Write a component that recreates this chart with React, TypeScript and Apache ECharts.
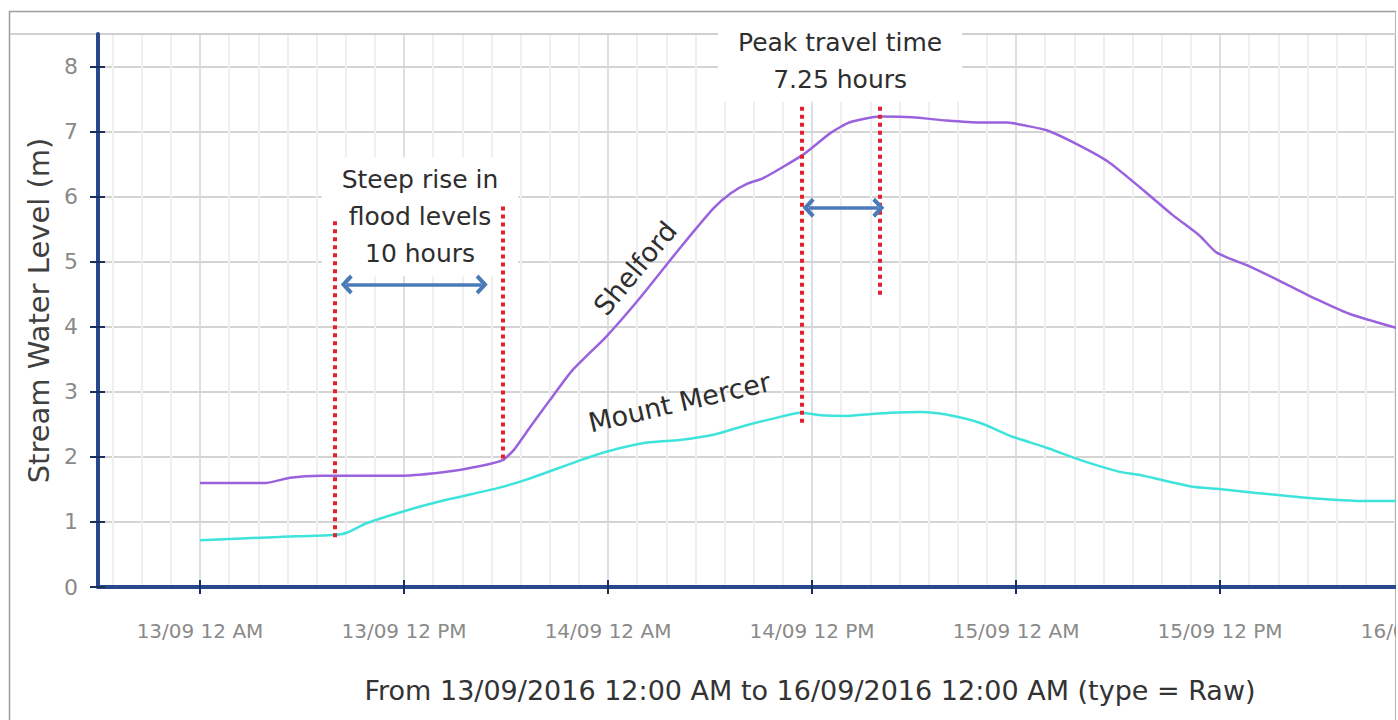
import React, { useEffect, useRef } from "react";
import * as echarts from "echarts";

// ---- data (hours after 13/09/2016 12:00 AM) ----
const tickLabels = [
  "13/09 12 AM",
  "13/09 12 PM",
  "14/09 12 AM",
  "14/09 12 PM",
  "15/09 12 AM",
  "15/09 12 PM",
  "16/09 12 AM",
];

const shelfordHours = [
  0, 3.9, 5.3, 7.1, 11.9, 14.5, 16.5, 17.8, 18.5, 19.4, 20.6, 21.9, 23.9, 25.9, 28.2,
  30.2, 31.2, 32.2, 33.1, 35.5, 37.1, 38.2, 40, 41.9, 43.9, 45.9, 47.5, 48.6, 49.8, 51.4,
  53.4, 55.3, 57.2, 58.8, 59.8, 61.8, 63.7, 65.7, 67.6, 70.4,
];
const shelfordLevel = [
  1.6, 1.6, 1.68, 1.71, 1.71, 1.77, 1.86, 1.95, 2.12, 2.45, 2.88, 3.33, 3.85, 4.45, 5.2,
  5.82, 6.05, 6.2, 6.28, 6.65, 6.98, 7.14, 7.23, 7.22, 7.17, 7.14, 7.14, 7.09, 7.02, 6.83,
  6.54, 6.14, 5.72, 5.4, 5.14, 4.92, 4.68, 4.42, 4.2, 3.98,
];

const mercerHours = [
  0, 4.7, 7.8, 8.6, 9.8, 12.2, 14.5, 17.5, 19.2, 22.4, 23.9, 26.3, 28.2, 30.2, 32.2,
  33.9, 35.3, 36.5, 38.1, 39.5, 40.6, 42.4, 43.9, 45.9, 47.8, 49.8, 51.8, 54.1, 55.3,
  58.4, 59.8, 62, 64.7, 68.6, 70.4,
];
const mercerLevel = [
  0.72, 0.77, 0.8, 0.83, 0.98, 1.18, 1.34, 1.52, 1.65, 1.95, 2.08, 2.22, 2.26, 2.34, 2.49,
  2.6, 2.68, 2.64, 2.63, 2.66, 2.68, 2.69, 2.65, 2.52, 2.31, 2.14, 1.95, 1.77, 1.72,
  1.54, 1.51, 1.45, 1.38, 1.32, 1.32,
];

// red dotted marker lines
const markerHours = [7.9, 17.8, 35.4, 40.0];
const markerTop = [5.62, 5.85, 7.38, 7.38];
const markerBottom = [0.74, 1.95, 2.49, 4.45];

// double-headed arrows
const arrowFrom = [8.63, 35.8];
const arrowTo = [16.57, 39.9];
const arrowLevel = [4.65, 5.83];

// annotation anchors (data coords)
const noteTexts = ["Steep rise in\nflood levels\n10 hours", "Peak travel time\n7.25 hours"];
const noteHours = [12.94, 37.65];
const noteLevel = [5.69, 8.09];

const seriesNames = ["Shelford", "Mount Mercer"];
const seriesNameHours = [25.6, 28.2];
const seriesNameLevel = [4.9, 2.84];
const seriesNameAngle = [50, 13];

const xMinHours = -6;
const xMaxHours = 70.35;
const yMax = 8.5;
const HOURS_PER_TICK = 12;

const FONT = "'DejaVu Sans', 'Noto Sans', sans-serif";
const toX = (h: number) => h / HOURS_PER_TICK;

const CHEVRON = "path://M10,0 L20,10 L17,13 L10,6 L3,13 L0,10 Z";

export default function App() {
  const ref = useRef<HTMLDivElement>(null);

  useEffect(() => {
    if (!ref.current) return;
    const chart = echarts.init(ref.current, undefined, { renderer: "svg" });

    const tickVals = tickLabels.slice(0, 6).map((_, i) => i);
    const yTickVals = [0, 1, 2, 3, 4, 5, 6, 7, 8];
    const xFormatter = (v: number) => {
      const i = Math.round(v);
      return Math.abs(v - i) < 1e-6 && tickLabels[i] ? tickLabels[i] : "";
    };

    const option: any = {
      animation: false,
      grid: {
        left: 98,
        top: 34,
        width: 1298,
        height: 553,
        containLabel: false,
        outerBoundsMode: "none",
      },
      xAxis: [
        {
          type: "value",
          min: toX(xMinHours),
          max: toX(xMaxHours),
          minInterval: 1,
          maxInterval: 1,
          splitNumber: 6,
          axisLine: { show: true, onZero: false, lineStyle: { color: "#27498c", width: 4 } },
          axisTick: {
            show: true,
            customValues: tickVals,
            length: 7,
            lineStyle: { color: "#1b2f5c", width: 2 },
          },
          axisLabel: {
            customValues: tickVals,
            formatter: xFormatter,
            color: "#8a8a8a",
            fontSize: 20,
            fontFamily: FONT,
            margin: 34,
          },
          splitLine: { show: true, lineStyle: { color: "#d4d4d4", width: 1.5 } },
          minorTick: { show: false, splitNumber: 7 },
          minorSplitLine: { show: true, lineStyle: { color: "#efefef", width: 2 } },
        },
        {
          type: "value",
          position: "bottom",
          min: toX(xMinHours),
          max: toX(xMaxHours),
          minInterval: 1,
          maxInterval: 1,
          axisLine: { show: false, onZero: false },
          axisTick: {
            show: true,
            inside: true,
            customValues: tickVals,
            length: 7,
            lineStyle: { color: "#1b2f5c", width: 2 },
          },
          axisLabel: { show: false },
          splitLine: { show: false },
        },
      ],
      yAxis: [
        {
          type: "value",
          min: 0,
          max: yMax,
          interval: 1,
          name: "Stream Water Level (m)",
          nameLocation: "middle",
          nameGap: 45,
          nameTextStyle: { fontSize: 29, color: "#404040", fontFamily: FONT },
          axisLine: { show: true, onZero: false, lineStyle: { color: "#27498c", width: 4 } },
          axisTick: {
            show: true,
            customValues: yTickVals,
            length: 8,
            lineStyle: { color: "#1b2f5c", width: 2 },
          },
          axisLabel: {
            formatter: (v: number) => (Number.isInteger(v) ? String(v) : ""),
            color: "#8a8a8a",
            fontSize: 22,
            fontFamily: FONT,
            margin: 20,
          },
          splitLine: { show: true, lineStyle: { color: "#d4d4d4", width: 2 } },
        },
        {
          type: "value",
          position: "left",
          min: 0,
          max: yMax,
          interval: 1,
          axisLine: { show: false, onZero: false },
          axisTick: {
            show: true,
            inside: true,
            customValues: yTickVals,
            length: 7,
            lineStyle: { color: "#1b2f5c", width: 2 },
          },
          axisLabel: { show: false },
          splitLine: { show: false },
        },
      ],
      series: [
        {
          type: "line",
          name: "Shelford",
          xAxisIndex: 0,
          yAxisIndex: 0,
          data: shelfordHours.map((h, i) => [toX(h), shelfordLevel[i]]),
          showSymbol: false,
          symbol: "none",
          smooth: 0.2,
          lineStyle: { color: "#9a62dc", width: 2.5 },
          z: 3,
          markLine: {
            silent: true,
            symbol: "none",
            label: { show: false },
            lineStyle: { color: "#e3202b", width: 4, type: [4, 4] },
            data: markerHours.map((h, i) => [
              { coord: [toX(h), markerTop[i]] },
              { coord: [toX(h), markerBottom[i]] },
            ]),
          },
        },
        {
          type: "line",
          name: "Mount Mercer",
          xAxisIndex: 0,
          yAxisIndex: 0,
          data: mercerHours.map((h, i) => [toX(h), mercerLevel[i]]),
          showSymbol: false,
          symbol: "none",
          smooth: 0.2,
          lineStyle: { color: "#3ee4dc", width: 2.5 },
          z: 3,
          markLine: {
            silent: true,
            symbol: [CHEVRON, CHEVRON],
            symbolSize: [20, 12],
            label: { show: false },
            lineStyle: { color: "#4a7ab8", width: 3.5, type: "solid" },
            data: arrowFrom.map((h, i) => [
              { coord: [toX(h), arrowLevel[i]] },
              { coord: [toX(arrowTo[i]), arrowLevel[i]] },
            ]),
          },
        },
      ],
    };

    chart.setOption(option);

    const px = (h: number, v: number) =>
      chart.convertToPixel({ gridIndex: 0 }, [toX(h), v]) as number[];

    const graphics: any[] = [
      {
        type: "rect",
        shape: { x: 9.5, y: 11.5, width: 1386.5, height: 760 },
        style: { fill: "none", stroke: "#9d9d9d", lineWidth: 1.5 },
        silent: true,
        z: 0,
      },
      {
        type: "line",
        shape: { x1: 10, y1: 34, x2: 1396, y2: 34 },
        style: { stroke: "#cfcfcf", lineWidth: 2 },
        silent: true,
        z: 0,
      },
    ];

    noteTexts.forEach((t, i) => {
      const [x, y] = px(noteHours[i], noteLevel[i]);
      graphics.push({
        type: "text",
        x,
        y,
        z: 1,
        silent: true,
        style: {
          text: t,
          fill: "#2e2e2e",
          font: `25px ${FONT}`,
          align: "center",
          verticalAlign: "middle",
          lineHeight: 37,
          backgroundColor: "#ffffff",
          padding: [4, 20],
        },
      });
    });

    seriesNames.forEach((t, i) => {
      const [x, y] = px(seriesNameHours[i], seriesNameLevel[i]);
      graphics.push({
        type: "text",
        x,
        y,
        rotation: (seriesNameAngle[i] * Math.PI) / 180,
        z: 4,
        silent: true,
        style: {
          text: t,
          fill: "#2e2e2e",
          font: `27px ${FONT}`,
          align: "center",
          verticalAlign: "middle",
        },
      });
    });

    // tick label that lies just past the right edge of the plot
    const [lx, ly] = px(6 * HOURS_PER_TICK, 0);
    graphics.push({
      type: "text",
      x: lx,
      y: ly + 34,
      z: 1,
      silent: true,
      style: {
        text: tickLabels[6],
        fill: "#8a8a8a",
        font: `20px ${FONT}`,
        align: "center",
        verticalAlign: "top",
      },
    });

    graphics.push({
      type: "text",
      x: 810,
      y: 690,
      z: 1,
      silent: true,
      style: {
        text: "From 13/09/2016 12:00 AM to 16/09/2016 12:00 AM (type = Raw)",
        fill: "#333333",
        font: `27px ${FONT}`,
        align: "center",
        verticalAlign: "middle",
      },
    });

    chart.setOption({ graphic: { elements: graphics } });

    return () => chart.dispose();
  }, []);

  return (
    <div
      ref={ref}
      style={{ position: "absolute", left: 0, top: 0, width: 1396, height: 720, background: "#fff" }}
    />
  );
}
